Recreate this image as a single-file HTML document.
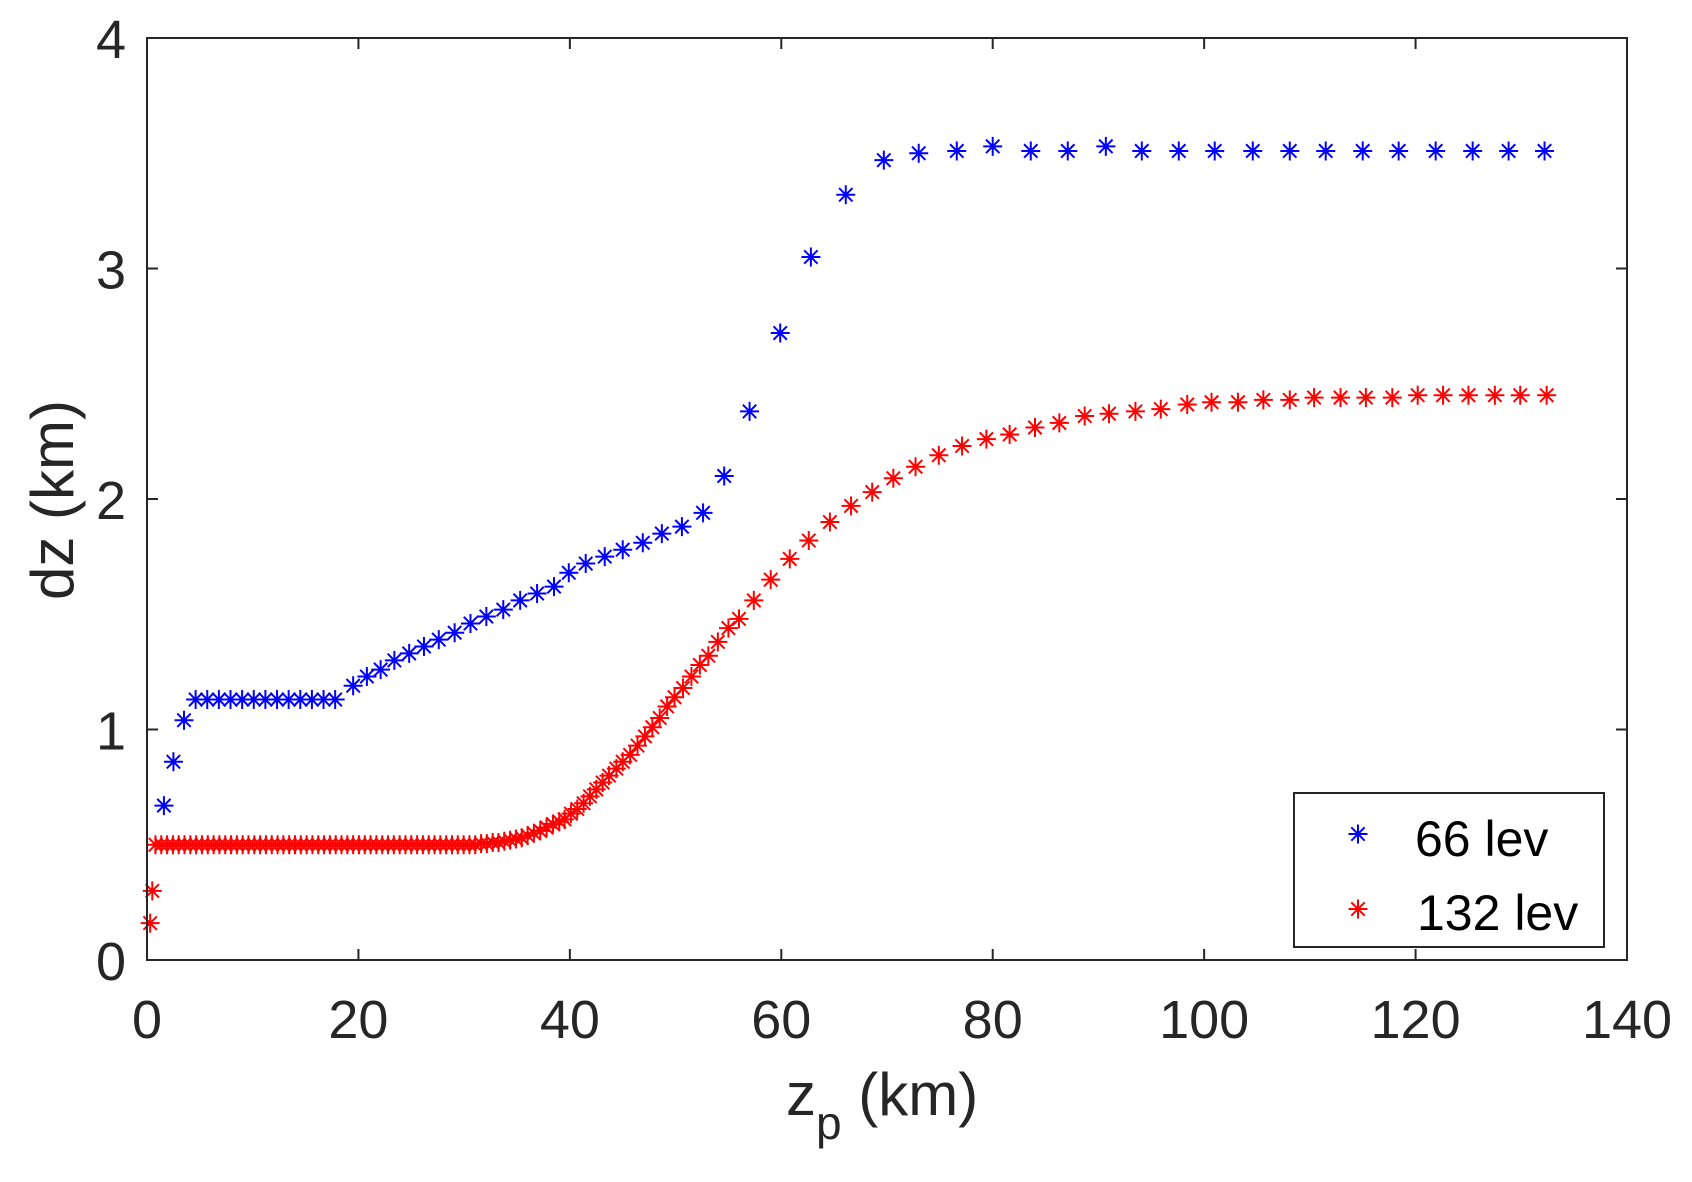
<!DOCTYPE html>
<html><head><meta charset="utf-8"><style>
html,body{margin:0;padding:0;background:#fff;}
svg{display:block;font-family:"Liberation Sans",Arial,sans-serif;}
</style></head><body>
<svg id="chart" width="1692" height="1182" viewBox="0 0 1692 1182" xmlns="http://www.w3.org/2000/svg">
<rect width="1692" height="1182" fill="#fff"/>
<g id="ticks"></g>
<g id="marks"></g>
<rect x="147" y="38" width="1480" height="922" fill="none" stroke="#262626" stroke-width="2"/>
<text transform="translate(73,500) rotate(-90)" text-anchor="middle" font-size="60" fill="#262626">dz (km)</text>
<text x="786" y="1115" font-size="60" fill="#262626">z<tspan font-size="46" dy="24">p</tspan><tspan dy="-24"> (km)</tspan></text>
<g>
<rect x="1294" y="793" width="310" height="154" fill="#fff" stroke="#262626" stroke-width="2"/>
<g id="leg-marks"></g>
<text x="1415" y="856" font-size="50" fill="#000">66 lev</text>
<text x="1417" y="930" font-size="50" fill="#000">132 lev</text>
</g>
</svg>
<script>
const xTicks=[0,20,40,60,80,100,120,140];
const yTicks=[0,1,2,3,4];
const blueZ=[1.6,2.5,3.5,4.6,5.7,6.8,7.9,9.0,10.1,11.2,12.3,13.4,14.5,15.6,16.7,17.8,19.5,20.8,22.1,23.4,24.8,26.2,27.6,29.1,30.6,32.1,33.7,35.3,36.9,38.5,39.9,41.5,43.3,45.0,46.9,48.7,50.6,52.6,54.6,57.0,59.9,62.8,66.1,69.7,73.0,76.6,80.0,83.6,87.1,90.7,94.1,97.6,101.0,104.6,108.1,111.5,115.0,118.4,121.9,125.4,128.8,132.2];
const blueDz=[0.67,0.86,1.04,1.13,1.13,1.13,1.13,1.13,1.13,1.13,1.13,1.13,1.13,1.13,1.13,1.13,1.19,1.23,1.26,1.30,1.33,1.36,1.39,1.42,1.46,1.49,1.52,1.56,1.59,1.62,1.68,1.72,1.75,1.78,1.81,1.85,1.88,1.94,2.10,2.38,2.72,3.05,3.32,3.47,3.50,3.51,3.53,3.51,3.51,3.53,3.51,3.51,3.51,3.51,3.51,3.51,3.51,3.51,3.51,3.51,3.51,3.51];
const redZ=[0.3,0.5,0.8,1.35,1.9,2.45,3.0,3.55,4.1,4.65,5.2,5.75,6.3,6.85,7.4,7.95,8.5,9.05,9.6,10.15,10.7,11.25,11.8,12.35,12.9,13.45,14.0,14.55,15.1,15.65,16.2,16.75,17.3,17.85,18.4,18.95,19.5,20.05,20.6,21.15,21.7,22.25,22.8,23.35,23.9,24.45,25.0,25.55,26.1,26.65,27.2,27.75,28.3,28.85,29.4,29.95,30.5,31.05,31.6,32.15,32.7,33.25,33.8,34.35,34.9,35.45,36.0,36.6,37.2,37.8,38.4,39.0,39.5,40.1,40.7,41.3,41.9,42.5,43.1,43.7,44.4,45.0,45.7,46.4,47.1,47.8,48.5,49.2,49.9,50.7,51.5,52.3,53.1,54.0,55.0,56.0,57.4,59.0,60.8,62.6,64.6,66.6,68.6,70.6,72.7,74.9,77.1,79.4,81.6,84.0,86.3,88.7,91.0,93.5,95.9,98.4,100.7,103.2,105.6,108.1,110.4,112.9,115.3,117.8,120.2,122.6,125.0,127.5,129.9,132.4];
const redDz=[0.16,0.30,0.50,0.50,0.50,0.50,0.50,0.50,0.50,0.50,0.50,0.50,0.50,0.50,0.50,0.50,0.50,0.50,0.50,0.50,0.50,0.50,0.50,0.50,0.50,0.50,0.50,0.50,0.50,0.50,0.50,0.50,0.50,0.50,0.50,0.50,0.50,0.50,0.50,0.50,0.50,0.50,0.50,0.50,0.50,0.50,0.50,0.50,0.50,0.50,0.50,0.50,0.50,0.50,0.50,0.50,0.50,0.50,0.505,0.505,0.51,0.51,0.515,0.52,0.525,0.53,0.54,0.55,0.56,0.575,0.59,0.60,0.61,0.635,0.655,0.68,0.71,0.74,0.77,0.80,0.83,0.86,0.89,0.93,0.97,1.01,1.05,1.10,1.14,1.18,1.23,1.28,1.32,1.38,1.44,1.48,1.56,1.65,1.74,1.82,1.90,1.97,2.03,2.09,2.14,2.19,2.23,2.26,2.28,2.31,2.33,2.36,2.37,2.38,2.39,2.41,2.42,2.42,2.43,2.43,2.44,2.44,2.44,2.44,2.45,2.45,2.45,2.45,2.45,2.45];
const X0=147,X1=1627,Y0=960,Y1=38;
function xs(v){return X0+(v-0)/(140-0)*(X1-X0);}
function ys(v){return Y0-(v-0)/(4-0)*(Y0-Y1);}
const NS='http://www.w3.org/2000/svg';
function star(g,cx,cy,color,name){
  const s=document.createElementNS(NS,'path');
  const r=9.5,d=6.7;
  s.setAttribute('d',`M${cx-r} ${cy}H${cx+r}M${cx} ${cy-r}V${cy+r}M${cx-d} ${cy-d}L${cx+d} ${cy+d}M${cx-d} ${cy+d}L${cx+d} ${cy-d}`);
  s.setAttribute('stroke',color);s.setAttribute('stroke-width','2');s.setAttribute('fill','none');
  
  
  g.appendChild(s);
}
const tg=document.getElementById('ticks');
const svg=document.getElementById('chart');
xTicks.forEach(t=>{
  const x=xs(t);
  const l=document.createElementNS(NS,'path');
  l.setAttribute('d',`M${x} ${Y0}V${Y0-11}M${x} ${Y1}V${Y1+11}`);
  l.setAttribute('stroke','#262626');l.setAttribute('stroke-width','2');
  
  
  tg.appendChild(l);
  const tx=document.createElementNS(NS,'text');
  tx.setAttribute('x',x);tx.setAttribute('y',1038);tx.setAttribute('text-anchor','middle');
  tx.setAttribute('font-size','54');tx.setAttribute('fill','#262626');
  tx.textContent=t;
  
  
  svg.appendChild(tx);
});
yTicks.forEach(t=>{
  const y=ys(t);
  const l=document.createElementNS(NS,'path');
  l.setAttribute('d',`M${X0} ${y}H${X0+11}M${X1} ${y}H${X1-11}`);
  l.setAttribute('stroke','#262626');l.setAttribute('stroke-width','2');
  
  
  tg.appendChild(l);
  const tx=document.createElementNS(NS,'text');
  tx.setAttribute('x',126);tx.setAttribute('y',y+20);tx.setAttribute('text-anchor','end');
  tx.setAttribute('font-size','54');tx.setAttribute('fill','#262626');
  tx.textContent=t;
  
  
  svg.appendChild(tx);
});
const mg=document.getElementById('marks');
blueZ.forEach((z,i)=>star(mg,xs(z),ys(blueDz[i]),'#0000ff','point-66-lev'));
redZ.forEach((z,i)=>star(mg,xs(z),ys(redDz[i]),'#ff0000','point-132-lev'));
const lg=document.getElementById('leg-marks');
star(lg,1358,834,'#0000ff','legend-marker-66');
star(lg,1358,909,'#ff0000','legend-marker-132');
</script>
</body></html>
